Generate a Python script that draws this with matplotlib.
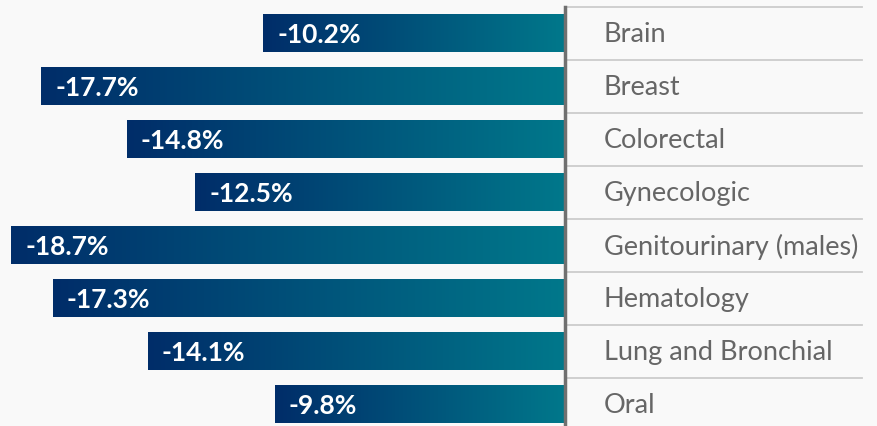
import numpy as np
import matplotlib.pyplot as plt
from matplotlib.colors import LinearSegmentedColormap

categories = ["Brain", "Breast", "Colorectal", "Gynecologic",
              "Genitourinary (males)", "Hematology", "Lung and Bronchial", "Oral"]
values = [-10.2, -17.7, -14.8, -12.5, -18.7, -17.3, -14.1, -9.8]
labels = ["-10.2%", "-17.7%", "-14.8%", "-12.5%", "-18.7%", "-17.3%", "-14.1%", "-9.8%"]

bg = "#f9f9f9"
grad = LinearSegmentedColormap.from_list("bar", ["#002d69", "#00788b"])
font = ["Lato", "DejaVu Sans"]

fig = plt.figure(figsize=(8.78, 4.26), dpi=100, facecolor=bg)
ax = fig.add_axes([0, 0, 1, 1])
ax.set_facecolor(bg)

ppu = 29.6  # pixels per percent
ax.axis("off")

h = 0.71
g = np.linspace(0, 1, 256).reshape(1, -1)
for i, (v, lab) in enumerate(zip(values, labels)):
    ax.imshow(g, cmap=grad, aspect="auto", extent=(v, 0, i + h / 2, i - h / 2),
              interpolation="bicubic", zorder=2)
    ax.text(v + 14 / ppu, i + 0.02, lab, color="white", fontsize=19,
            fontweight="bold", va="center", ha="left", family=font, zorder=3)
    ax.text(39 / ppu, i + 0.02, categories[i], color="#666666", fontsize=19.5,
            va="center", ha="left", family=font, zorder=3)

# row separators
for i in range(len(categories)):
    ax.plot([2 / ppu, 297 / ppu], [i - 0.5, i - 0.5], color="#cccccc", lw=1.3, zorder=1)

ax.plot([0, 0], [-0.5, len(categories)], color="#707070", lw=2.5, zorder=4)
ax.set_xlim(-565 / ppu, (878 - 565) / ppu)
ax.set_ylim((426 - 33.5) / 53, -33.5 / 53)

fig.savefig("out.png", dpi=100, facecolor=bg)
